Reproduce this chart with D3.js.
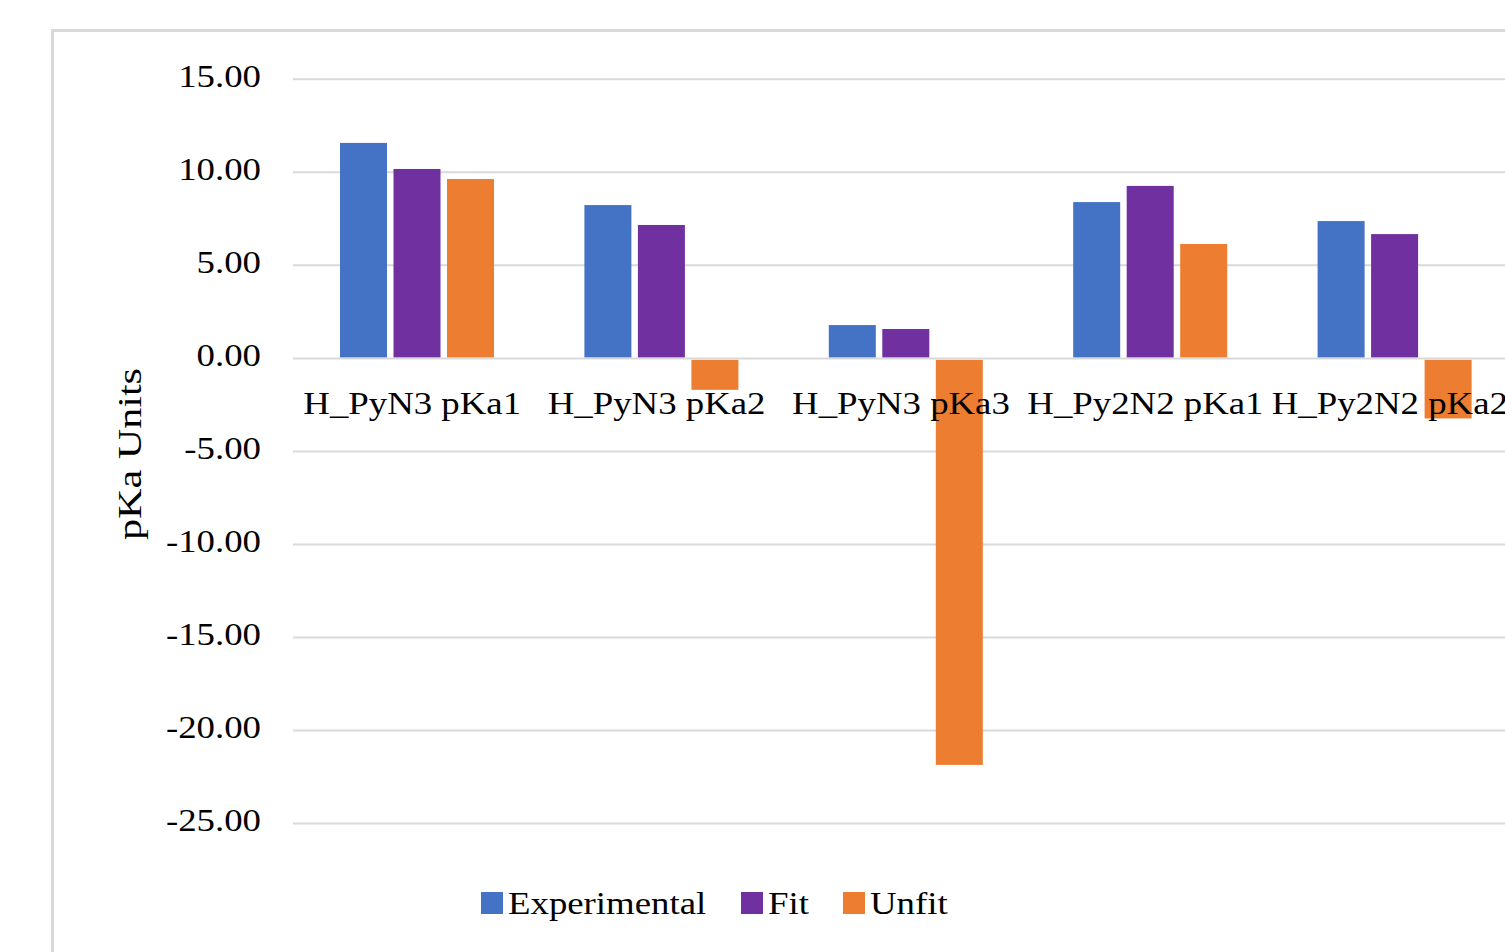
<!DOCTYPE html>
<html>
<head>
<meta charset="utf-8">
<script src="https://cdn.jsdelivr.net/npm/d3@7"></script>
<style>
  html, body { margin: 0; padding: 0; background: #ffffff; overflow: hidden; }
  svg { display: block; }
  text { font-family: "Liberation Serif", "Times New Roman", serif; fill: #000; }
</style>
</head>
<body>
<svg id="chart" width="1505" height="952"></svg>
<script>
// pKa values per compound site
const categories = ["H_PyN3 pKa1", "H_PyN3 pKa2", "H_PyN3 pKa3", "H_Py2N2 pKa1", "H_Py2N2 pKa2"];
const seriesNames = ["Experimental", "Fit", "Unfit"];
const experimental = [11.58, 8.24, 1.79, 8.40, 7.38];
const fit = [10.18, 7.17, 1.58, 9.27, 6.68];
const unfit = [9.64, -1.69, -21.85, 6.15, -3.23];
const yTicks = [15, 10, 5, 0, -5, -10, -15, -20, -25];
const colors = ["#4472c4", "#7030a0", "#ed7d31"];

const seriesValues = [experimental, fit, unfit];
const rows = categories.map((c, i) => ({
  category: c,
  values: seriesNames.map((s, j) => ({ series: s, value: seriesValues[j][i] }))
}));

const svg = d3.select("#chart");
const stretch = 1.15;
const fontSize = 32;

// widen glyphs horizontally, like the serif text in the original layout
function widen(sel, factor) {
  sel.each(function () {
    const w = this.getComputedTextLength();
    d3.select(this).attr("textLength", w * factor).attr("lengthAdjust", "spacingAndGlyphs");
  });
}

// chart frame (runs past the right and bottom edges)
svg.append("rect")
  .attr("x", 52.5).attr("y", 30.5)
  .attr("width", 1600).attr("height", 1000)
  .attr("fill", "none").attr("stroke", "#d9d9d9").attr("stroke-width", 3);

const plotLeft = 293;
const bandStep = 244.4;

const y = d3.scaleLinear().domain([-25, 15]).range([823.5, 79.3]);
const x0 = d3.scaleBand().domain(categories)
  .range([plotLeft, plotLeft + bandStep * categories.length])
  .paddingInner(0).paddingOuter(0);
const x1 = d3.scaleBand().domain(seriesNames)
  .range([47, 201]).paddingInner(0.1215).paddingOuter(0);

// tick format with a plain hyphen for negatives
const fmt = d => d.toFixed(2);

// gridlines
const yAxis = d3.axisLeft(y).tickValues(yTicks).tickSize(0).tickFormat(fmt);
const gGrid = svg.append("g");
gGrid.selectAll("line").data(yTicks).join("line")
  .attr("x1", plotLeft).attr("x2", 1600)
  .attr("y1", d => y(d)).attr("y2", d => y(d))
  .attr("stroke", "#d9d9d9").attr("stroke-width", 2);

// y tick labels
const gY = svg.append("g").attr("transform", "translate(261,0)").call(yAxis);
gY.select(".domain").remove();
gY.selectAll("text")
  .attr("x", 0).attr("dy", null).attr("y", 7)
  .attr("font-size", fontSize)
  .attr("font-family", "Liberation Serif")
  .attr("fill", "#111")
  .attr("text-anchor", "end")
  .call(widen, stretch);

// bars
const groups = svg.append("g").selectAll("g").data(rows).join("g")
  .attr("transform", d => `translate(${x0(d.category)},0)`);
groups.selectAll("rect").data(d => d.values).join("rect")
  .attr("x", d => x1(d.series))
  .attr("width", x1.bandwidth())
  .attr("y", d => d.value >= 0 ? y(d.value) : y(0) + 1.5)
  .attr("height", d => d.value >= 0 ? y(0) - y(d.value) - 1 : y(d.value) - y(0) - 1.5)
  .attr("fill", (d, i) => colors[i]);

// category labels
svg.append("g").selectAll("text").data(categories).join("text")
  .attr("x", d => x0(d) + x0.bandwidth() / 2 - 3)
  .attr("y", 414)
  .attr("text-anchor", "middle")
  .attr("font-size", fontSize)
  .text(d => d)
  .call(widen, stretch);

// y axis title
svg.append("text")
  .attr("transform", "translate(141,454) rotate(-90)")
  .attr("text-anchor", "middle")
  .attr("font-size", 33)
  .text("pKa Units")
  .attr("textLength", 172).attr("lengthAdjust", "spacingAndGlyphs");

// legend
const legendX = [481, 741, 843];
const legend = svg.append("g").selectAll("g").data(seriesNames).join("g")
  .attr("transform", (d, i) => `translate(${legendX[i]},0)`);
legend.append("rect")
  .attr("x", 0).attr("y", 892).attr("width", 22).attr("height", 22)
  .attr("fill", (d, i) => colors[i]);
legend.append("text")
  .attr("x", 27).attr("y", 914)
  .attr("font-size", fontSize)
  .text(d => d)
  .call(widen, stretch);
</script>
</body>
</html>
